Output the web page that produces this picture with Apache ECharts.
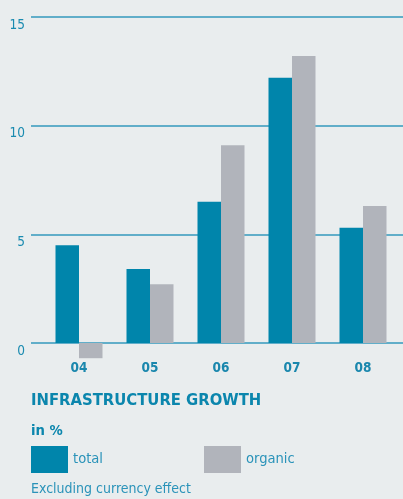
<!DOCTYPE html>
<html><head><meta charset="utf-8">
<script src="https://cdn.jsdelivr.net/npm/echarts@6/dist/echarts.min.js"></script>
<style>html,body{margin:0;padding:0;background:#e9edee;}#c{width:403px;height:499px;}</style>
</head><body><div id="c"></div>
<script>
const categories = ['04', '05', '06', '07', '08'];
const totalValues = [4.5, 3.4, 6.5, 12.2, 5.3];
const organicValues = [-0.7, 2.7, 9.1, 13.2, 6.3];
const yTicks = [0, 5, 10, 15];
const FONT = '"DejaVu Sans Condensed", "DejaVu Sans", sans-serif';
const TEAL = '#0085ab';
const GRAY = '#b1b4bb';
const chart = echarts.init(document.getElementById('c'));
const legendText = {fontFamily: FONT, fontSize: 14.6, color: '#2a93b9', padding: [2, 0, 0, 0]};
chart.setOption({
  backgroundColor: '#e9edee',
  animation: false,
  title: [
    {text: 'INFRASTRUCTURE GROWTH', left: 31, top: 392, padding: 0,
     textStyle: {fontFamily: FONT, fontSize: 16.5, fontWeight: 'bold', color: '#0b86ad'}},
    {text: 'in %', left: 31, top: 423.5, padding: 0,
     textStyle: {fontFamily: FONT, fontSize: 14.7, fontWeight: 'bold', color: '#0b86ad'}},
    {text: 'Excluding currency effect', left: 31, top: 482.5, padding: 0,
     textStyle: {fontFamily: FONT, fontSize: 14, fontWeight: 'normal', color: '#2a93b9'}}
  ],
  legend: [
    {left: 31, top: 446, padding: 0, itemWidth: 37, itemHeight: 27, icon: 'rect',
     data: ['total'], textStyle: legendText},
    {left: 204, top: 446, padding: 0, itemWidth: 37, itemHeight: 27, icon: 'rect',
     data: ['organic'], textStyle: legendText}
  ],
  grid: [
    {left: 31, right: 0, top: 17, height: 326},
    {left: 43.5, right: 4.5, top: 17, height: 326}
  ],
  xAxis: [
    {type: 'value', gridIndex: 0, show: false, min: 0, max: 1},
    {type: 'category', gridIndex: 1, data: categories,
     axisLine: {show: false}, axisTick: {show: false},
     axisLabel: {margin: 18, fontFamily: FONT, fontSize: 13.5, fontWeight: 'bold', color: '#1a87ad'}}
  ],
  yAxis: [
    {type: 'value', gridIndex: 0, min: yTicks[0], max: yTicks[yTicks.length - 1], interval: 5,
     axisLine: {show: false}, axisTick: {show: false},
     splitLine: {show: true, lineStyle: {color: '#3398bd', width: 1.5}},
     axisLabel: {margin: 6, verticalAlign: 'top', padding: [1, 0, 0, 0], fontFamily: FONT, fontSize: 13.5, color: '#1a8bb0'}},
    {type: 'value', gridIndex: 1, min: yTicks[0], max: yTicks[yTicks.length - 1], interval: 5, show: false,
     splitLine: {show: false}}
  ],
  series: [
    {name: 'total', type: 'bar', xAxisIndex: 1, yAxisIndex: 1, data: totalValues,
     barWidth: 23.5, barGap: '0%', clip: false, itemStyle: {color: TEAL}},
    {name: 'organic', type: 'bar', xAxisIndex: 1, yAxisIndex: 1, data: organicValues,
     barWidth: 23.5, barGap: '0%', clip: false, itemStyle: {color: GRAY}}
  ]
});
</script></body></html>
